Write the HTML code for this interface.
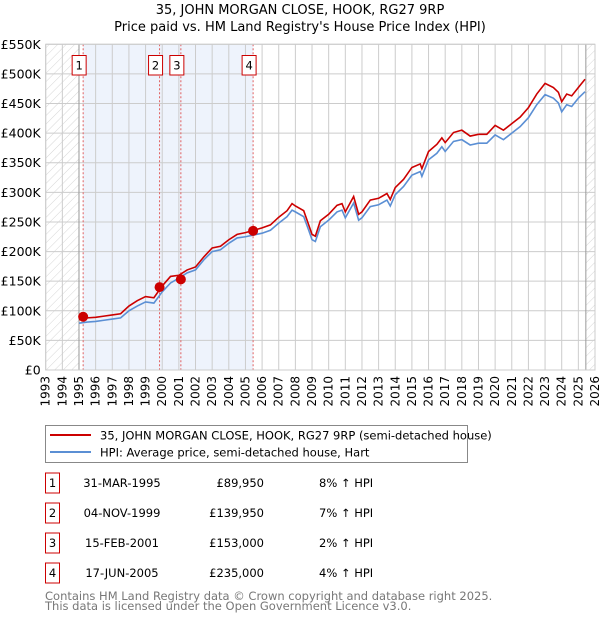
<!DOCTYPE html>
<html><head><meta charset="utf-8">
<style>
body{margin:0;background:#fff;font-family:"DejaVu Sans","Liberation Sans",sans-serif;}
svg text{font-family:"DejaVu Sans","Liberation Sans",sans-serif;}
</style></head>
<body>
<svg id="c" width="600" height="620" xmlns="http://www.w3.org/2000/svg">
<defs>
<pattern id="hatch" width="6" height="6" patternUnits="userSpaceOnUse" patternTransform="rotate(45)">
<line x1="0" y1="0" x2="0" y2="6" stroke="#ccc" stroke-width="0.8"/>
</pattern>
</defs>
<text x="300" y="14" text-anchor="middle" font-size="13">35, JOHN MORGAN CLOSE, HOOK, RG27 9RP</text>
<text x="300" y="31" text-anchor="middle" font-size="13">Price paid vs. HM Land Registry's House Price Index (HPI)</text>
<g id="plot"></g>
<g>
<rect x="45.5" y="425.5" width="422" height="37" fill="#fff" stroke="#888"/>
<line x1="50" y1="435" x2="91" y2="435" stroke="#cc0000" stroke-width="2"/>
<text x="100" y="439.5" font-size="11.5">35, JOHN MORGAN CLOSE, HOOK, RG27 9RP (semi-detached house)</text>
<line x1="50" y1="452" x2="91" y2="452" stroke="#5b8fd4" stroke-width="2"/>
<text x="100" y="456.5" font-size="11.5">HPI: Average price, semi-detached house, Hart</text>
</g>
<g id="table" font-size="11.5"></g>
<text x="45" y="600" font-size="11.5" fill="#777">Contains HM Land Registry data © Crown copyright and database right 2025.</text>
<text x="45" y="610" font-size="11.5" fill="#777">This data is licensed under the Open Government Licence v3.0.</text>
</svg>
<script>
const yearTicks=[1993,1994,1995,1996,1997,1998,1999,2000,2001,2002,2003,2004,2005,2006,2007,2008,2009,2010,2011,2012,2013,2014,2015,2016,2017,2018,2019,2020,2021,2022,2023,2024,2025,2026];
const valueTicks=[0,50000,100000,150000,200000,250000,300000,350000,400000,450000,500000,550000];
const valueTickLabels=["£0","£50K","£100K","£150K","£200K","£250K","£300K","£350K","£400K","£450K","£500K","£550K"];
const hpiYears=[1995.0,1995.5,1996,1996.5,1997,1997.5,1998,1998.5,1999,1999.5,2000,2000.5,2001,2001.5,2002,2002.5,2003,2003.5,2004,2004.5,2005,2005.5,2006,2006.5,2007,2007.5,2007.8,2008,2008.5,2008.8,2009,2009.2,2009.5,2010,2010.5,2010.8,2011,2011.5,2011.8,2012,2012.5,2013,2013.5,2013.7,2014,2014.5,2015,2015.5,2015.6,2016,2016.5,2016.8,2017,2017.5,2018,2018.5,2019,2019.5,2020,2020.5,2021,2021.5,2022,2022.5,2023,2023.5,2023.8,2024,2024.3,2024.6,2025,2025.4];
const hpiValues=[79000,81000,82000,84000,86000,88000,100000,108000,115000,113000,132000,147000,155000,164000,169000,186000,200000,203000,214000,223000,225000,228000,231000,236000,248000,259000,270000,267000,259000,236000,220000,217000,242000,253000,267000,270000,257000,282000,253000,257000,276000,279000,287000,277000,296000,310000,329000,335000,327000,355000,366000,377000,369000,386000,389000,380000,383000,383000,397000,389000,400000,411000,426000,448000,465000,459000,451000,436000,448000,445000,459000,470000];
const priceValues=[85000,88000,89000,91000,93000,95000,108000,117000,124000,122000,142000,158000,160000,169000,174000,191000,206000,209000,220000,229000,232000,236000,240000,245000,258000,269000,281000,277000,269000,245000,229000,226000,252000,263000,278000,281000,267000,293000,263000,267000,287000,290000,298000,288000,308000,322000,342000,348000,340000,369000,381000,392000,384000,401000,405000,395000,398000,398000,413000,405000,416000,427000,443000,466000,484000,477000,469000,453000,466000,463000,477000,491000];
const saleYears=[1995.25,1999.84,2001.12,2005.46];
const salePrices=[89950,139950,153000,235000];
const saleLabels=["1","2","3","4"];
const saleDates=["31-MAR-1995","04-NOV-1999","15-FEB-2001","17-JUN-2005"];
const salePriceText=["£89,950","£139,950","£153,000","£235,000"];
const saleDiff=["8% ↑ HPI","7% ↑ HPI","2% ↑ HPI","4% ↑ HPI"];

const X0=45.7,X1=595,Y0=370,Y1=44.3;
const xs=y=>X0+(y-1993)/(2026-1993)*(X1-X0);
const ys=v=>Y0-v/550000*(Y0-Y1);
const NS="http://www.w3.org/2000/svg";
const plot=document.getElementById('plot');
function mk(tag,attrs,parent){const e=document.createElementNS(NS,tag);for(const k in attrs)e.setAttribute(k,attrs[k]);(parent||plot).appendChild(e);return e;}

let e;
e=mk('rect',{x:X0,y:Y1,width:X1-X0,height:Y0-Y1,fill:'#fff'});


e=mk('rect',{x:xs(1995.25),y:Y1,width:xs(2005.46)-xs(1995.25),height:Y0-Y1,fill:'#eef3fc'});


e=mk('rect',{x:X0,y:Y1,width:xs(1995)-X0,height:Y0-Y1,fill:'url(#hatch)'});


e=mk('rect',{x:xs(2025.45),y:Y1,width:X1-xs(2025.45),height:Y0-Y1,fill:'url(#hatch)'});



yearTicks.forEach(yr=>{
  const x=xs(yr);
  e=mk('line',{x1:x,y1:Y1,x2:x,y2:Y0,stroke:'#ccc','stroke-width':1});
  
  
  e=mk('text',{x:0,y:0,'font-size':12,'text-anchor':'end',transform:`translate(${x+4},${Y0+6}) rotate(-90)`});
  e.textContent=yr;
  
  
});
valueTicks.forEach((v,i)=>{
  const y=ys(v);
  e=mk('line',{x1:X0,y1:y,x2:X1,y2:y,stroke:'#ccc','stroke-width':1});
  
  
  e=mk('text',{x:X0-5,y:y+4.5,'font-size':12.5,'text-anchor':'end'});
  e.textContent=valueTickLabels[i];
  
  
});
e=mk('line',{x1:xs(1995),y1:Y1,x2:xs(1995),y2:Y0,stroke:'#999'});


e=mk('line',{x1:xs(2025.45),y1:Y1,x2:xs(2025.45),y2:Y0,stroke:'#999'});



saleYears.forEach((yr,i)=>{
  e=mk('line',{x1:xs(yr),y1:Y1,x2:xs(yr),y2:Y0,stroke:'#e06060','stroke-width':1,'stroke-dasharray':'2,2'});
  
  
});

e=mk('polyline',{points:hpiYears.map((y,i)=>xs(y)+','+ys(hpiValues[i])).join(' '),fill:'none',stroke:'#5b8fd4','stroke-width':1.6});


e=mk('polyline',{points:hpiYears.map((y,i)=>xs(y)+','+ys(priceValues[i])).join(' '),fill:'none',stroke:'#cc0000','stroke-width':1.6});



saleYears.forEach((yr,i)=>{
  e=mk('circle',{cx:xs(yr),cy:ys(salePrices[i]),r:5,fill:'#cc0000'});
  
  
  const rx=xs(yr)-11;
  e=mk('rect',{x:rx,y:55.5,width:14,height:19.5,fill:'#fff',stroke:'#cc0000'});
  
  
  e=mk('text',{x:rx+7,y:69.5,'font-size':11.5,'text-anchor':'middle'});
  e.textContent=saleLabels[i];
  
  
});
e=mk('rect',{x:X0,y:Y1,width:X1-X0,height:Y0-Y1,fill:'none',stroke:'#ccc'});



const tbl=document.getElementById('table');
saleLabels.forEach((l,i)=>{
  const cy=483+i*30;
  e=mk('rect',{x:45.5,y:cy-10,width:14,height:20,fill:'#fff',stroke:'#cc0000'},tbl);
  
  
  e=mk('text',{x:52.5,y:cy+4,'text-anchor':'middle'},tbl);
  e.textContent=l;
  
  
  e=mk('text',{x:122,y:cy+4,'text-anchor':'middle'},tbl);
  e.textContent=saleDates[i];
  
  
  e=mk('text',{x:264,y:cy+4,'text-anchor':'end'},tbl);
  e.textContent=salePriceText[i];
  
  
  e=mk('text',{x:319,y:cy+4},tbl);
  e.textContent=saleDiff[i];
  
  
});
</script>
</body></html>
